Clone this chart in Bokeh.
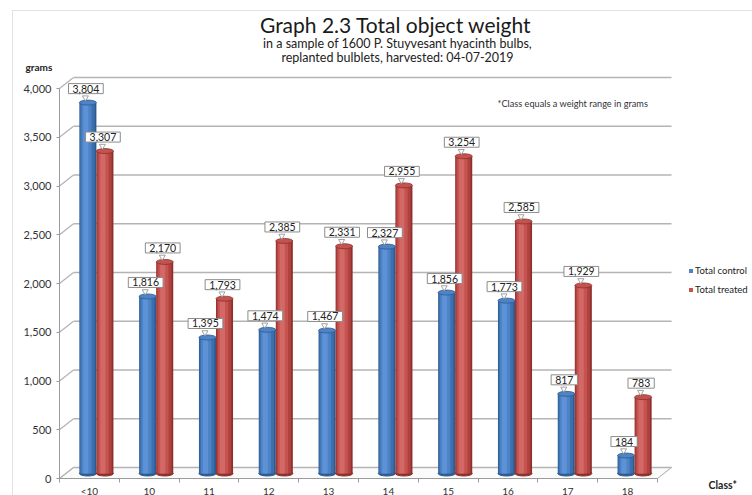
from bokeh.plotting import figure
from bokeh.models import (Range1d, FixedTicker, NumeralTickFormatter, Label, Legend,
                          LegendItem, BoxAnnotation)
from bokeh.embed import file_html
from bokeh.resources import INLINE

# ---------------- data ----------------
CATEGORIES = ["<10", "10", "11", "12", "13", "14", "15", "16", "17", "18"]
CONTROL = [3804, 1816, 1395, 1474, 1467, 2327, 1856, 1773, 817, 184]
TREATED = [3307, 2170, 1793, 2385, 2331, 2955, 3254, 2585, 1929, 783]
SERIES = ["Total control", "Total treated"]
Y_TICKS = [0, 500, 1000, 1500, 2000, 2500, 3000, 3500, 4000]

TITLE = "Graph 2.3  Total object weight"
SUB1 = "in a sample of 1600 P. Stuyvesant hyacinth bulbs,"
SUB2 = "replanted bulblets, harvested: 04-07-2019"
NOTE = "*Class equals a weight range in grams"

# ---------------- layout constants (pixels) ----------------
W, H = 752, 495
X0, Y0 = 59, 478                 # pixel position of the front origin
PPX = 59.8                       # px per category
PPY = (478 - 88) / 4000          # px per gram
DXM, DYM = 7 / PPX, 5 / PPY      # mid-depth offset (bars)
DXB, DYB = 14 / PPX, 11 / PPY    # back wall offset
BAR_W = 0.285
FONT = "Lato"

p = figure(width=W, height=H,
           x_range=Range1d(-X0 / PPX, (W - X0) / PPX),
           y_range=Range1d(-(H - Y0) / PPY, Y0 / PPY),
           output_backend="svg", toolbar_location=None,
           min_border=0, outline_line_color=None,
           background_fill_color="white", border_fill_color="white")
p.title.visible = False
p.xgrid.visible = False
p.ygrid.visible = False
p.extra_x_ranges = {"mid": Range1d(-X0 / PPX - DXM, (W - X0) / PPX - DXM)}
p.extra_y_ranges = {"mid": Range1d(-(H - Y0) / PPY - DYM, Y0 / PPY - DYM)}

# ---------------- axes (drawn at the front edges of the 3D box) ----------------
ya = p.yaxis[0]
ya.fixed_location = 0
ya.ticker = FixedTicker(ticks=Y_TICKS)
ya.formatter = NumeralTickFormatter(format="0,0")
ya.bounds = (0, 4000)
ya.axis_line_color = "#9a9a9a"
ya.major_tick_line_color = "#9a9a9a"
ya.major_tick_out = 3
ya.major_tick_in = 0
ya.minor_tick_line_color = None
ya.major_label_standoff = 5
ya.major_label_text_font = FONT
ya.major_label_text_font_size = "11px"
ya.major_label_text_color = "#333333"

xa = p.xaxis[0]
xa.fixed_location = 0
xa.ticker = FixedTicker(ticks=[i + 0.5 for i in range(len(CATEGORIES))],
                        minor_ticks=list(range(len(CATEGORIES) + 1)))
xa.major_label_overrides = {i + 0.5: c for i, c in enumerate(CATEGORIES)}
xa.bounds = (0, len(CATEGORIES))
xa.axis_line_color = "#9a9a9a"
xa.major_tick_line_color = None
xa.major_tick_out = 0
xa.major_tick_in = 0
xa.minor_tick_line_color = "#9a9a9a"
xa.minor_tick_out = 4
xa.minor_tick_in = 0
xa.major_label_standoff = 2
xa.major_label_text_font = FONT
xa.major_label_text_font_size = "10px"
xa.major_label_text_color = "#333333"

# ---------------- 3D walls ----------------
n = len(CATEGORIES)
p.patch([0, n, n + DXB, DXB], [0, 0, DYB, DYB], fill_color="#fbfbfb",
        line_color="#a8a8a8", line_width=1)
p.segment(x0=[DXB] * len(Y_TICKS), y0=[t + DYB for t in Y_TICKS],
          x1=[n + DXB] * len(Y_TICKS), y1=[t + DYB for t in Y_TICKS],
          line_color="#b4b4b4", line_width=1.3)
p.segment(x0=[0] * len(Y_TICKS), y0=Y_TICKS, x1=[DXB] * len(Y_TICKS),
          y1=[t + DYB for t in Y_TICKS], line_color="#b4b4b4", line_width=1.3)

# ---------------- cylinders ----------------
STYLES = [
    dict(dark="#2d5a8f", layers=[(0.86, -0.03, "#3c70ad"), (0.6, -0.08, "#4c82c6"),
                                 (0.3, -0.12, "#5d93d6")], top="#4e83c6"),
    dict(dark="#8c302d", layers=[(0.86, -0.03, "#b0413e"), (0.6, -0.08, "#c55451"),
                                 (0.3, -0.12, "#d26966")], top="#c4524f"),
]
legend_items = []
for s, vals in enumerate([CONTROL, TREATED]):
    st = STYLES[s]
    xs = [i + 0.5 + (s - 0.5) * BAR_W for i in range(n)]
    kw = dict(x_range_name="mid", y_range_name="mid")
    p.ellipse(x=xs, y=[0] * n, width=BAR_W, height=5, height_units="screen",
              fill_color=st["dark"], line_color=st["dark"], **kw)
    p.vbar(x=xs, top=vals, bottom=0, width=BAR_W, fill_color=st["dark"],
           line_color=None, **kw)
    legend_r = None
    for frac, shift, col in st["layers"]:
        r = p.vbar(x=[x + shift * BAR_W for x in xs], top=vals, bottom=0,
                   width=BAR_W * frac, fill_color=col, line_color=None, **kw)
        if frac == 0.6:
            legend_r = r
    p.ellipse(x=xs, y=vals, width=BAR_W, height=5, height_units="screen",
              fill_color=st["top"], line_color=st["dark"], line_width=0.8, **kw)
    legend_items.append(LegendItem(label=SERIES[s], renderers=[legend_r]))

    # data labels (callout boxes)
    for x, v in zip(xs, vals):
        p.add_layout(Label(x=x, y=v, text=f"{v:,}", x_range_name="mid",
                           y_range_name="mid", y_offset=14, x_offset=-2,
                           text_align="center", text_baseline="middle",
                           text_font=FONT, text_font_size="10.5px",
                           text_color="#222222",
                           background_fill_color="white", border_line_color="#8c8c8c",
                           border_line_width=1,
                           padding=dict(left=4, right=4, top=1, bottom=1)))
    p.scatter(x=[x - 2.5 / PPX for x in xs], y=[v + 5 / PPY for v in vals],
              marker="inverted_triangle", size=6, fill_color="white",
              line_color="#8c8c8c", line_width=0.8, level="overlay", **kw)

legend = Legend(items=legend_items, location=(688, H - 295), glyph_width=5,
                glyph_height=5, label_text_font=FONT, label_text_font_size="9.5px",
                label_text_color="#222222", label_height=9, spacing=8, padding=0,
                margin=0, border_line_color=None, background_fill_alpha=0,
                label_standoff=2)
p.add_layout(legend)


# ---------------- texts ----------------
def txt(text, px, py, size, bold=False, align="left", color="#222222"):
    p.add_layout(Label(x=(px - X0) / PPX, y=(Y0 - py) / PPY, text=text,
                       text_font=FONT, text_font_size=f"{size}px",
                       text_font_style="bold" if bold else "normal",
                       text_align=align, text_baseline="middle", text_color=color))


txt(TITLE, 398, 24, 21, align="center", color="#1a1a1a")
txt(SUB1, 397, 43, 12.5, align="center")
txt(SUB2, 397, 57, 12.5, align="center")
txt("grams", 25, 66, 10, bold=True)
txt(NOTE, 497, 103, 9.2, color="#333333")
txt("Class*", 708, 484, 10.5, bold=True)

# outer chart border (only its left and top edges lie inside the picture)
p.add_layout(BoxAnnotation(left=(12 - X0) / PPX, right=100,
                           top=(Y0 - 10) / PPY, bottom=-5000,
                           fill_color=None, line_color="#a0a0a0", line_width=1))

open("out.html", "w").write(file_html(p, INLINE))
